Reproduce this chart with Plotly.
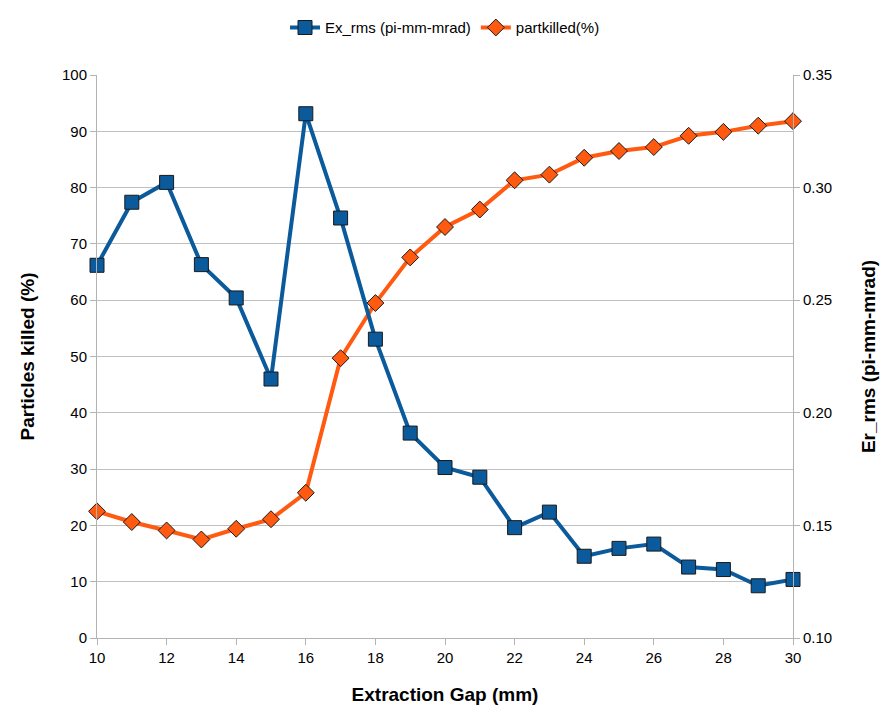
import plotly.graph_objects as go

# Extraction gap (mm)
gap_mm = [10, 11, 12, 13, 14, 15, 16, 17, 18, 19, 20, 21, 22, 23, 24, 25, 26, 27, 28, 29, 30]

# Emittance (pi-mm-mrad), plotted against the right axis
ex_rms = [0.2655, 0.2935, 0.3023, 0.2658, 0.2510, 0.2150, 0.3328, 0.2865, 0.2327,
          0.1910, 0.1757, 0.1714, 0.1490, 0.1559, 0.1363, 0.1398, 0.1417, 0.1315,
          0.1304, 0.1232, 0.1260]

# Particles killed (%), plotted against the left axis
part_killed = [22.5, 20.6, 19.1, 17.5, 19.4, 21.1, 25.8, 49.7, 59.5, 67.6, 73.0,
               76.1, 81.3, 82.3, 85.3, 86.5, 87.2, 89.2, 89.9, 91.0, 91.8]

x_ticks = list(range(10, 31, 2))
left_ticks = list(range(0, 101, 10))
right_ticks = [0.10, 0.15, 0.20, 0.25, 0.30, 0.35]

BLUE = "#0a5a9c"
ORANGE = "#ff5a10"
GRID = "#c0c0c0"
FONT = "Liberation Sans, Arial, sans-serif"

fig = go.Figure()

fig.add_trace(go.Scatter(
    x=gap_mm, y=ex_rms, name="Ex_rms (pi-mm-mrad)", yaxis="y2",
    mode="lines+markers", cliponaxis=False,
    line=dict(color=BLUE, width=4),
    marker=dict(symbol="square", size=14, color=BLUE,
                line=dict(color="#1a1a1a", width=1)),
))

fig.add_trace(go.Scatter(
    x=gap_mm, y=part_killed, name="partkilled(%)", yaxis="y",
    mode="lines+markers", cliponaxis=False,
    line=dict(color=ORANGE, width=4),
    marker=dict(symbol="diamond", size=13, color=ORANGE,
                line=dict(color="#1a1a1a", width=1)),
))

fig.update_layout(
    width=887, height=724,
    paper_bgcolor="white", plot_bgcolor="white",
    margin=dict(l=97, r=94, t=74, b=86),
    font=dict(family=FONT, size=15, color="#000000"),
    showlegend=True,
    legend=dict(orientation="h", x=0.5, xanchor="center", y=1.082, yanchor="middle",
                font=dict(size=15, family=FONT),
                itemwidth=30, tracegroupgap=0),
    xaxis=dict(
        range=[10, 30], tickvals=x_ticks, ticks="outside", ticklen=6,
        tickcolor="#b3b3b3", showgrid=False, zeroline=False,
        showline=True, linecolor="#b3b3b3", linewidth=1, mirror=False,
        tickfont=dict(size=15, family=FONT),
        title=dict(text="<b>Extraction Gap (mm)</b>", font=dict(size=19, family=FONT),
                   standoff=22),
    ),
    yaxis=dict(
        range=[0, 100], tickvals=left_ticks, ticks="outside", ticklen=6,
        tickcolor="#b3b3b3", showgrid=True, gridcolor=GRID, gridwidth=1,
        zeroline=False, showline=True, linecolor="#b3b3b3", linewidth=1,
        tickfont=dict(size=15, family=FONT),
        title=dict(text="<b>Particles killed (%)</b>", font=dict(size=19, family=FONT),
                   standoff=22),
    ),
    yaxis2=dict(
        range=[0.10, 0.35], tickvals=right_ticks, tickformat=".2f",
        overlaying="y", side="right", ticks="outside", ticklen=6,
        tickcolor="#b3b3b3", showgrid=False, zeroline=False,
        showline=True, linecolor="#b3b3b3", linewidth=1,
        tickfont=dict(size=15, family=FONT),
        title=dict(text="<b>Er_rms (pi-mm-mrad)</b>", font=dict(size=19, family=FONT),
                   standoff=30),
    ),
)

fig.write_html("out.html")
